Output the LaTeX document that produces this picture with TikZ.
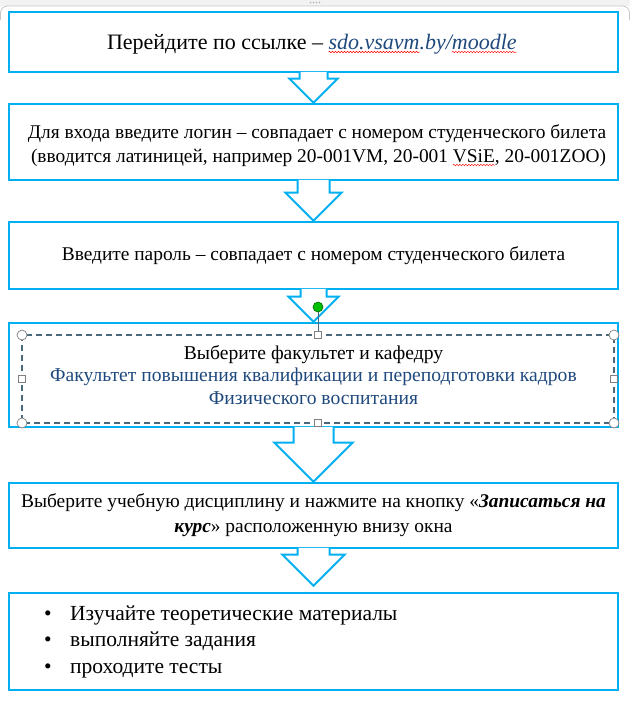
\documentclass[tikz,border=0pt]{standalone}
\usepackage{fontspec}
\setmainfont{LiberationSerif}[Extension=.ttf, UprightFont=*-Regular, BoldFont=*-Bold,
  ItalicFont=*-Italic, BoldItalicFont=*-BoldItalic]
\usetikzlibrary{positioning,calc,decorations.pathmorphing}

% block arrow from the bottom of one box to the top of the next
\newcommand{\flowarrow}[4]{%
  \draw[blockarrow] let \p1=(#1), \p2=(#2) in
    (\x1-#3pt,\y1+1.5pt) -- (\x1-#3pt,\y2+#4pt) -- (\x1-#4pt,\y2+#4pt) -- (\x1,\y2)
    -- (\x1+#4pt,\y2+#4pt) -- (\x1+#3pt,\y2+#4pt) -- (\x1+#3pt,\y1+1.5pt);}

\begin{document}
\begin{tikzpicture}[x=1pt, y=-1pt,
    stepbox/.style={draw=flowblue, line width=2.6pt, minimum width=609pt, inner sep=0pt,
      align=center, font=\fontsize{19.4}{25}\selectfont},
    piece/.style={inner sep=0pt, outer sep=0pt, anchor=base west, font=\fontsize{19.4}{25}\selectfont},
    link/.style={piece, text=linkblue, font=\fontsize{22}{25}\selectfont\itshape},
    spell/.style={draw=red, line width=0.5pt, decorate,
      decoration={snake, amplitude=0.7pt, segment length=3pt}},
    blockarrow/.style={draw=flowblue, line width=2pt, fill=white, line join=miter},
    selbox/.style={draw=selgray, line width=1.1pt, dash pattern=on 6pt off 4pt},
    handle/.style={draw=gray, fill=white, line width=0.7pt}]

        % Define colors
        \definecolor{flowblue}{RGB}{0, 176, 240}
        \definecolor{linkblue}{RGB}{31, 73, 125}
        \definecolor{selgray}{RGB}{75, 105, 125}

        \useasboundingbox (0,0) rectangle (630,713);

        % Window edge at the top
        \fill[gray!10] (0,0) rectangle (630,6);
        \draw[gray!45, line width=0.8pt, rounded corners=7pt] (0.5,20) -- (0.5,6) -- (629.5,6) -- (629.5,20);
        \foreach \dx in {-4.5,-1.5,1.5,4.5}
            \fill[gray!60] (315+\dx,2.5) circle (0.8);

        % Step 1: the site
        \node[stepbox, minimum height=60pt] (site) at (313.5,42) {};
        \node[piece, font=\fontsize{22}{25}\selectfont] (gotxt) at (107,49) {Перейдите по ссылке –};
        \node[link] (url1) at ([xshift=5.5pt]gotxt.base east) {sdo.vsavm};
        \node[link] (url2) at (url1.base east) {.by/};
        \node[link] (url3) at (url2.base east) {moodle};
        \draw[spell] ([yshift=-3pt]url1.base west) -- ([yshift=-3pt]url1.base east);
        \draw[spell] ([yshift=-3pt]url3.base west) -- ([yshift=-3pt]url3.base east);

        % Step 2: the login
        \node[stepbox, minimum height=76pt] (login) at (313.5,142) {};
        \node[anchor=base, inner sep=0pt, font=\fontsize{19.4}{25}\selectfont] (loginA) at (317,138)
            {Для входа введите логин – совпадает с номером студенческого билета};
        \node[piece] (loginB) at (31,162) {(вводится латиницей, например 20-001VM, 20-001};
        \node[piece] (vsie) at ([xshift=4.8pt]loginB.base east) {VSiE};
        \node[piece] (loginC) at (vsie.base east) {, 20-001ZOO)};
        \draw[spell] ([yshift=-3pt]vsie.base west) -- ([yshift=-3pt]vsie.base east);

        % Step 3: the password
        \node[stepbox, minimum height=67pt] (password) at (313.5,255.5)
            {Введите пароль – совпадает с номером студенческого билета};

        % Step 4: faculty and chair
        \node[stepbox, minimum height=104pt, font=\fontsize{19.6}{22.5}\selectfont] (faculty) at (313.5,375)
            {Выберите факультет и кафедру\\
             {\color{linkblue}Факультет повышения квалификации и переподготовки кадров}\\
             {\color{linkblue}Физического воспитания}};

        % Step 5: the course
        \node[stepbox, minimum height=65pt] (course) at (313.5,515.5)
            {Выберите учебную дисциплину и нажмите на кнопку «\textbf{\textit{Записаться на}}\\
             \textbf{\textit{курс}}» расположенную внизу окна};

        % Step 6: study
        \node[stepbox, minimum height=97pt] (study) at (313.5,641.5) {};
        \node[anchor=west, align=left, inner sep=0pt, font=\fontsize{21.5}{26.5}\selectfont] (tasks) at (44,641.5)
            {\makebox[26pt][l]{•}Изучайте теоретические материалы\\
             \makebox[26pt][l]{•}выполняйте задания\\
             \makebox[26pt][l]{•}проходите тесты};

        % Arrows between the steps
        \flowarrow{site.south}{login.north}{14}{24}
        \flowarrow{login.south}{password.north}{16}{28}
        \flowarrow{password.south}{faculty.north}{13}{25}
        \flowarrow{faculty.south}{course.north}{20}{39}
        \flowarrow{course.south}{[yshift=6pt]study.north}{16}{31}

        % Selection frame round the faculty text
        \draw[selbox] (22,335) rectangle (614,423);
        \draw[selgray, line width=0.6pt] (318,307) -- (318,335);
        \filldraw[fill=green!75!black, draw=green!40!black, line width=0.6pt] (318,307) circle (5);
        \foreach \hx/\hy in {22/335, 614/335, 22/423, 614/423}
            \draw[handle] (\hx,\hy) circle (5);
        \foreach \hx/\hy in {318/335, 318/423, 22/379, 614/379}
            \draw[handle] (\hx-3.5,\hy-3.5) rectangle (\hx+3.5,\hy+3.5);

    \end{tikzpicture}
\end{document}
